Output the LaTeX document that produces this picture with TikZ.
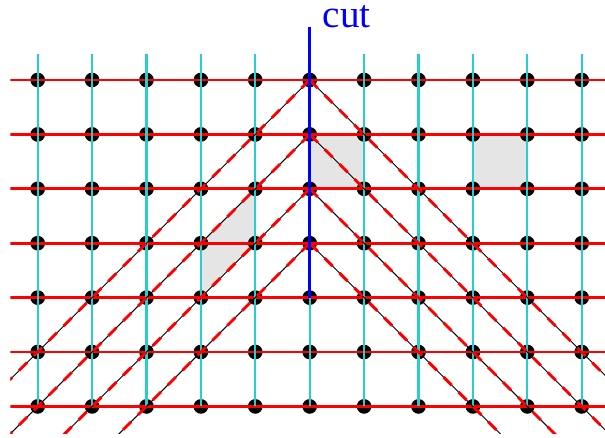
\documentclass[tikz,border=0pt]{standalone}
\usepackage{fontspec}
\setmainfont{Liberation Serif}
\usepackage{xcolor}
\usepackage{tikz}
\definecolor{AzulCorte}{RGB}{0,0,255}
\definecolor{RojoRed}{RGB}{255,0,0}
\definecolor{CianRed}{RGB}{40,205,210}
\definecolor{GrisCelda}{RGB}{229,229,229}

\begin{document}
\begin{tikzpicture}[scale=1.0]
  \useasboundingbox (-5.693,-6.5625) rectangle (5.428,1.4706);
  \begin{scope}
  \clip (-5.5,-6.5) rectangle (5.5,1.5);
  % celdas sombreadas
  \fill[GrisCelda] (0,-1) rectangle (1,-2);
  \fill[GrisCelda] (3,-1) rectangle (4,-2);
  \fill[GrisCelda] (-2,-3)--(-1,-2)--(-1,-3)--(-2,-4)--cycle;
  % puntos de la red
  \foreach \i in {-5,...,5}
    \foreach \j in {0,...,6}
      \fill (\i,-\j) circle (0.135);
  \foreach \j in {0,...,6}
    \draw[RojoRed,line width=1.5pt] (-5.5,-\j)--(5.5,-\j);
  \foreach \i in {-5,...,5}
    \draw[CianRed,line width=1.1pt] (\i,0.48)--(\i,-6);
  % diagonales
  \foreach \j in {0,...,3} {
    \draw[line width=0.5pt] (0,-\j)--++(-7,-7);
    \draw[line width=0.5pt] (0,-\j)--++(7,-7);
    \draw[RojoRed,line width=1.5pt,dash pattern=on 6pt off 5pt] (0,-\j)--++(-7,-7);
    \draw[RojoRed,line width=1.5pt,dash pattern=on 6pt off 5pt] (0,-\j)--++(7,-7);
  }
  \end{scope}
  \draw[AzulCorte,line width=1.5pt] (0,0.97)--(0,-4);
  \node[AzulCorte,anchor=base west,inner sep=0pt,font=\fontsize{20.5}{24}\selectfont] (corte) at (0.23,0.974) {cut};
\end{tikzpicture}
\end{document}
